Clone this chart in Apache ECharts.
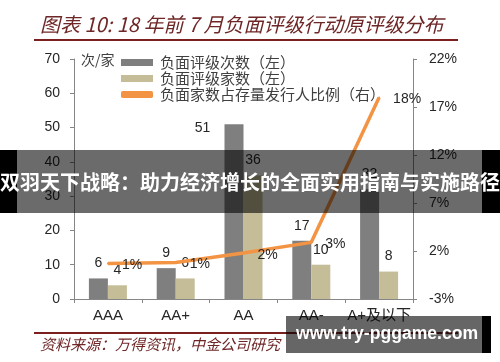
<!DOCTYPE html>
<html><head><meta charset="utf-8">
<script src="https://cdn.jsdelivr.net/npm/echarts@6/dist/echarts.min.js"></script>
<style>html,body{margin:0;padding:0;background:#fff}#c{width:500px;height:362px}</style>
</head><body><div id="c"></div>
<script>
const categories = ['AAA', 'AA+', 'AA', 'AA-', 'A+及以下'];
const ratingActions = [6, 9, 51, 17, 32];
const issuerCount = [4, 6, 36, 10, 8];
const issuerRatio = [0.7, 0.8, 1.8, 2.9, 18.0];
const leftTicks = { min: 0, max: 70, step: 10 };
const rightTicks = { min: -3, max: 22, step: 5 };
const seriesNames = ['负面评级次数（左）', '负面评级家数（左）', '负面家数占存量发行人比例（右）'];

const off = -rightTicks.min; // shift so right axis min is a multiple of its interval
const chart = echarts.init(document.getElementById('c'), null, { renderer: 'canvas' });
const numFont = 'Liberation Sans';
const cjk = 'Noto Sans CJK SC';
chart.setOption({
  animation: false,
  grid: { left: 74, right: 87, top: 59, bottom: 63 },
  legend: {
    orient: 'vertical', left: 121, top: 55, padding: 0, itemWidth: 32, itemHeight: 7, itemGap: 1,
    textStyle: { fontFamily: cjk, fontSize: 15, color: '#404040', lineHeight: 15, padding: [0, 0, 0, 2] },
    data: [
      { name: seriesNames[0], icon: 'rect' },
      { name: seriesNames[1], icon: 'rect' },
      { name: seriesNames[2], icon: 'roundRect' }
    ]
  },
  xAxis: {
    type: 'category', data: categories,
    axisLine: { lineStyle: { color: '#868686' } },
    axisTick: { show: true, length: 4, lineStyle: { color: '#868686' } },
    axisLabel: { interval: 0, color: '#262626', fontFamily: numFont + ',' + cjk, fontSize: 15, margin: 9 }
  },
  yAxis: [
    {
      type: 'value', min: leftTicks.min, max: leftTicks.max, interval: leftTicks.step,
      splitLine: { show: false },
      axisLine: { show: true, lineStyle: { color: '#868686' } },
      axisTick: { show: true, length: 4, lineStyle: { color: '#868686' } },
      axisLabel: { color: '#262626', fontFamily: numFont, fontSize: 14, margin: 14 }
    },
    {
      type: 'value', min: rightTicks.min + off, max: rightTicks.max + off, interval: rightTicks.step,
      position: 'right', splitLine: { show: false },
      axisLine: { show: true, lineStyle: { color: '#868686' } },
      axisTick: { show: true, length: 4, lineStyle: { color: '#868686' } },
      axisLabel: { color: '#262626', fontFamily: numFont, fontSize: 14, margin: 16,
        formatter: v => Math.round(v - off) + '%' }
    }
  ],
  series: [
    {
      name: seriesNames[0], type: 'bar', barWidth: 19, barGap: '0%',
      itemStyle: { color: '#7f7f7f' },
      label: { show: true, position: 'top', distance: 8, color: '#262626', fontFamily: numFont, fontSize: 14 },
      data: ratingActions.map((v, i) => i === 2
        ? { value: v, label: { position: [-22, 4], align: 'center', verticalAlign: 'middle' } }
        : v)
    },
    {
      name: seriesNames[1], type: 'bar', barWidth: 19,
      itemStyle: { color: '#c4bd97' },
      label: { show: true, position: 'top', distance: 8, color: '#262626', fontFamily: numFont, fontSize: 14 },
      data: issuerCount
    },
    {
      name: seriesNames[2], type: 'line', yAxisIndex: 1, symbol: 'circle', symbolSize: 2, showSymbol: true,
      lineStyle: { color: '#f39444', width: 3.5 }, itemStyle: { color: '#f39444' },
      label: { show: true, position: 'right', distance: 13, offset: [0, 2], color: '#262626', fontFamily: numFont, fontSize: 14,
        formatter: p => Math.round(issuerRatio[p.dataIndex]) + '%' },
      data: issuerRatio.map(v => v + off)
    }
  ],
  graphic: [
    { type: 'text', left: 40, top: 14, z: 10, style: { text: '图表 10: 18 年前 7 月负面评级行动原评级分布',
      fontStyle: 'italic', fontSize: 20, fontFamily: cjk, fill: '#6e2626' } },
    { type: 'rect', left: 34, top: 39, z: 10, shape: { width: 424, height: 2 }, style: { fill: '#7b1f1f' } },
    { type: 'text', left: 81, top: 53, z: 10, style: { text: '次/家', fontSize: 14, fontFamily: cjk, fill: '#404040' } },
    { type: 'rect', left: 34, top: 332, z: 10, shape: { width: 424, height: 2 }, style: { fill: '#7b1f1f' } },
    { type: 'text', left: 40, top: 337, z: 10, style: { text: '资料来源：万得资讯，中金公司研究',
      fontStyle: 'italic', fontSize: 15, fontFamily: cjk, fill: '#6e2626' } },
    // overlay banner
    { type: 'rect', left: 17, top: 150, z: 100, shape: { width: 465, height: 63 }, style: { fill: 'rgba(0,0,0,0.58)' } },
    { type: 'rect', left: 0, top: 150, z: 100, shape: { width: 17, height: 63 }, style: { fill: '#000' } },
    { type: 'rect', left: 482, top: 150, z: 100, shape: { width: 18, height: 63 }, style: { fill: '#000' } },
    { type: 'text', left: 0, top: 172, z: 101, style: { text: '双羽天下战略：助力经济增长的全面实用指南与实施路径',
      fontWeight: 'bold', fontSize: 20, fontFamily: cjk, fill: '#fff' } },
    // watermark
    { type: 'rect', left: 286, top: 316, z: 100, shape: { width: 196, height: 37 }, style: { fill: 'rgba(0,0,0,0.6)' } },
    { type: 'rect', left: 482, top: 316, z: 100, shape: { width: 9, height: 37 }, style: { fill: '#000' } },
    { type: 'text', left: 296, top: 325, z: 101, style: { text: 'www.try-pggame.com',
      fontWeight: 'bold', fontSize: 17.6, fontFamily: 'Liberation Sans', fill: '#fff' } }
  ]
});
</script></body></html>
